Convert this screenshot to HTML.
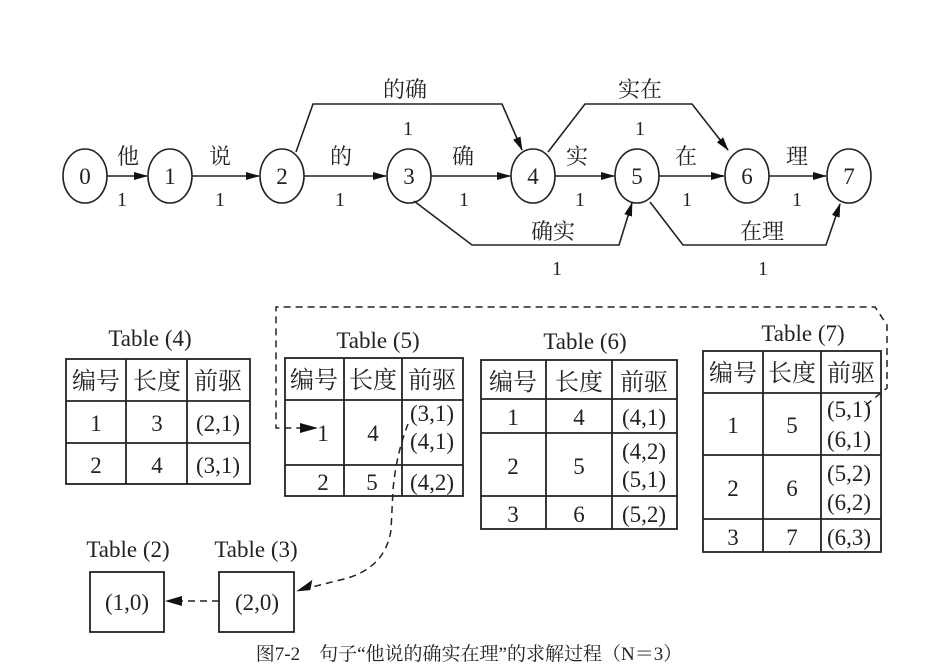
<!DOCTYPE html>
<html><head><meta charset="utf-8"><style>
html,body{margin:0;padding:0;background:#fff;}
svg{display:block;}
text{font-family:"Liberation Serif","Noto Serif CJK SC","Noto Sans CJK SC",serif;fill:#222;}
.c{text-anchor:middle;}
</style></head><body>
<svg width="948" height="666" viewBox="0 0 948 666" xmlns="http://www.w3.org/2000/svg">
<defs>
<marker id="a" markerWidth="14" markerHeight="8" refX="13" refY="4" orient="auto" markerUnits="userSpaceOnUse"><path d="M0,0 L14,4 L0,8 z" fill="#111"/></marker>
</defs>
<g stroke="#222" stroke-width="1.6" fill="none">
<line x1="107" y1="176" x2="147" y2="176" marker-end="url(#a)"/>
<line x1="192" y1="176" x2="259" y2="176" marker-end="url(#a)"/>
<line x1="304" y1="176" x2="386" y2="176" marker-end="url(#a)"/>
<line x1="431" y1="176" x2="510" y2="176" marker-end="url(#a)"/>
<line x1="555" y1="176" x2="614" y2="176" marker-end="url(#a)"/>
<line x1="659" y1="176" x2="724" y2="176" marker-end="url(#a)"/>
<line x1="769" y1="176" x2="826" y2="176" marker-end="url(#a)"/>
<polyline points="296,152 313,104 502,104 522,150" marker-end="url(#a)"/>
<polyline points="548,152 585,104 692,104 728,150" marker-end="url(#a)"/>
<polyline points="414,201 472,245 619,245 632,203" marker-end="url(#a)"/>
<polyline points="650,202 683,245 826,245 840,204" marker-end="url(#a)"/>
<ellipse cx="85" cy="176" rx="22" ry="27"/>
<ellipse cx="170" cy="176" rx="22" ry="27"/>
<ellipse cx="282" cy="176" rx="22" ry="27"/>
<ellipse cx="409" cy="176" rx="22" ry="27"/>
<ellipse cx="533" cy="176" rx="22" ry="27"/>
<ellipse cx="637" cy="176" rx="22" ry="27"/>
<ellipse cx="747" cy="176" rx="22" ry="27"/>
<ellipse cx="849" cy="176" rx="22" ry="27"/>
</g>
<g font-size="23">
<text x="85" y="184" class="c">0</text><text x="170" y="184" class="c">1</text><text x="282" y="184" class="c">2</text><text x="409" y="184" class="c">3</text>
<text x="533" y="184" class="c">4</text><text x="637" y="184" class="c">5</text><text x="747" y="184" class="c">6</text><text x="849" y="184" class="c">7</text>
</g>
<g font-size="22">
<text x="128" y="164" class="c">他</text><text x="220" y="164" class="c">说</text><text x="341" y="164" class="c">的</text><text x="463" y="164" class="c">确</text>
<text x="577" y="164" class="c">实</text><text x="686" y="164" class="c">在</text><text x="797" y="164" class="c">理</text>
<text x="405" y="97" class="c">的确</text><text x="640" y="97" class="c">实在</text>
<text x="553" y="239" class="c">确实</text><text x="762" y="239" class="c">在理</text>
</g>
<g font-size="20">
<text x="122" y="206" class="c">1</text><text x="220" y="206" class="c">1</text><text x="340" y="206" class="c">1</text><text x="464" y="206" class="c">1</text>
<text x="580" y="206" class="c">1</text><text x="687" y="206" class="c">1</text><text x="797" y="206" class="c">1</text>
<text x="408" y="135" class="c">1</text><text x="640" y="135" class="c">1</text>
<text x="557" y="275" class="c">1</text><text x="763" y="275" class="c">1</text>
</g>

<g stroke="#222" stroke-width="1.8" fill="none">
<rect x="66" y="359" width="184" height="125"/>
<line x1="66" y1="401" x2="250" y2="401"/><line x1="66" y1="443" x2="250" y2="443"/>
<line x1="126" y1="359" x2="126" y2="484"/><line x1="187" y1="359" x2="187" y2="484"/>
<rect x="285" y="358" width="178" height="138"/>
<line x1="285" y1="400" x2="463" y2="400"/><line x1="285" y1="465" x2="463" y2="465"/>
<line x1="344" y1="358" x2="344" y2="496"/><line x1="402" y1="358" x2="402" y2="496"/>
<rect x="481" y="360" width="196" height="169"/>
<line x1="481" y1="399" x2="677" y2="399"/><line x1="481" y1="433" x2="677" y2="433"/><line x1="481" y1="496" x2="677" y2="496"/>
<line x1="546" y1="360" x2="546" y2="529"/><line x1="612" y1="360" x2="612" y2="529"/>
<rect x="703" y="351" width="178" height="201"/>
<line x1="703" y1="393" x2="881" y2="393"/><line x1="703" y1="455" x2="881" y2="455"/><line x1="703" y1="519" x2="881" y2="519"/>
<line x1="763" y1="351" x2="763" y2="552"/><line x1="821" y1="351" x2="821" y2="552"/>
<rect x="90" y="572" width="74" height="60"/>
<rect x="219" y="572" width="75" height="60"/>
</g>
<g stroke="#222" stroke-width="1.5" fill="none" stroke-dasharray="7,5">
<path d="M866,405 L887,388 L887,325 L875,307 L276,307 L276,428 L300,428"/>
<path d="M408,424 Q396,455 393,490 L391,530 Q385,570 340,580 L300,590"/>
<line x1="219" y1="601" x2="180" y2="601"/>
</g>
<path d="M300,423 L318,428 L300,433 z" fill="#111"/>
<path d="M296,591 L313,581 L310,591 z" fill="#111" transform="rotate(-5 300 588)"/>
<path d="M165,601 L182,596 L182,606 z" fill="#111"/>

<g font-size="23">
<text x="150" y="346" class="c">Table (4)</text>
<text x="378" y="348" class="c">Table (5)</text>
<text x="585" y="349" class="c">Table (6)</text>
<text x="803" y="341" class="c">Table (7)</text>
<text x="128" y="557" class="c">Table (2)</text>
<text x="256" y="557" class="c">Table (3)</text>
</g>
<g font-size="23">
<g font-size="24">
<text x="96" y="389" class="c">编号</text><text x="157" y="389" class="c">长度</text><text x="218" y="389" class="c">前驱</text>
<text x="314" y="388" class="c">编号</text><text x="373" y="388" class="c">长度</text><text x="432" y="388" class="c">前驱</text>
<text x="513" y="390" class="c">编号</text><text x="579" y="390" class="c">长度</text><text x="644" y="390" class="c">前驱</text>
<text x="733" y="381" class="c">编号</text><text x="792" y="381" class="c">长度</text><text x="851" y="381" class="c">前驱</text>
</g>
<text x="96" y="431" class="c">1</text><text x="157" y="431" class="c">3</text><text x="218" y="431" class="c">(2,1)</text>
<text x="96" y="473" class="c">2</text><text x="157" y="473" class="c">4</text><text x="218" y="473" class="c">(3,1)</text>
<text x="323" y="441" class="c">1</text><text x="373" y="441" class="c">4</text><text x="432" y="421" class="c">(3,1)</text><text x="432" y="449" class="c">(4,1)</text>
<text x="323" y="490" class="c">2</text><text x="372" y="490" class="c">5</text><text x="432" y="490" class="c">(4,2)</text>
<text x="513" y="425" class="c">1</text><text x="579" y="425" class="c">4</text><text x="644" y="425" class="c">(4,1)</text>
<text x="513" y="474" class="c">2</text><text x="579" y="474" class="c">5</text><text x="644" y="459" class="c">(4,2)</text><text x="644" y="487" class="c">(5,1)</text>
<text x="513" y="522" class="c">3</text><text x="579" y="522" class="c">6</text><text x="644" y="522" class="c">(5,2)</text>
<text x="733" y="433" class="c">1</text><text x="792" y="433" class="c">5</text><text x="849" y="417" class="c">(5,1)</text><text x="849" y="447" class="c">(6,1)</text>
<text x="733" y="496" class="c">2</text><text x="792" y="496" class="c">6</text><text x="849" y="481" class="c">(5,2)</text><text x="849" y="510" class="c">(6,2)</text>
<text x="733" y="545" class="c">3</text><text x="792" y="545" class="c">7</text><text x="849" y="545" class="c">(6,3)</text>
<text x="127" y="610" class="c">(1,0)</text><text x="257" y="610" class="c">(2,0)</text>
</g>
<text x="469" y="660" class="c" font-size="19">图7-2　句子“他说的确实在理”的求解过程（N＝3）</text>
</svg>
</body></html>
